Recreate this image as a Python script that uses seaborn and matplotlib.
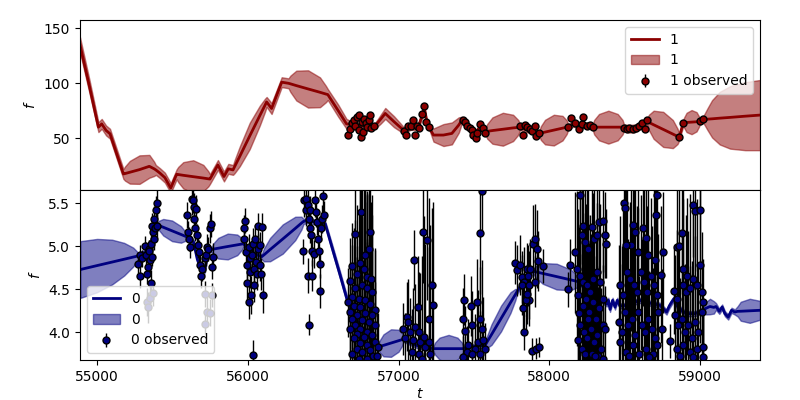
import numpy as np
import matplotlib
matplotlib.use("Agg")
import matplotlib.pyplot as plt
import seaborn as sns

# --- band "1" (top panel): GP model ---
t_mod1 = [54887, 54950, 55009, 55031, 55060, 55086, 55175, 55186, 55218, 55282,
          55347, 55379, 55390, 55418, 55450, 55489, 55528, 55539, 55572, 55638,
          55705, 55738, 55749, 55802, 55842, 55871, 55902, 55913, 55947, 56013,
          56080, 56114, 56125, 56158, 56225, 56270, 56283, 56322, 56400, 56479,
          56518, 56531, 56600, 56655, 56700, 56760, 56843, 56880, 56912, 56970,
          57033, 57080, 57130, 57160, 57170, 57190, 57210, 57232, 57298, 57354,
          57400, 57420, 57460, 57500, 57540, 57577, 57588, 57623, 57692, 57760,
          57795, 57806, 57840, 57880, 57934, 57944, 57972, 58030, 58088, 58116,
          58126, 58160, 58200, 58240, 58288, 58298, 58330, 58392, 58454, 58486,
          58496, 58530, 58570, 58610, 58650, 58661, 58692, 58756, 58820, 58851,
          58862, 58889, 58895, 58911, 58944, 58977, 58993, 58999, 59021, 59030,
          59050, 59080, 59131, 59200, 59300, 59398]
mu_mod1 = [135, 97, 60, 63, 57, 54, 17.3, 17.7, 18.9, 21.3,
           24.3, 22, 21, 18, 14, 4.5, 17, 16.8, 16.1, 14.85,
           13.6, 12.9, 12.7, 25.5, 15, 22, 21, 24.1, 33.4, 52,
           70.6, 79.9, 83, 77, 101, 100, 99.5, 97.9, 94.85, 91.8,
           90.2, 89.7, 75, 63, 62, 61, 61, 67, 72.5, 65,
           57.3, 60, 60, 72, 78, 63, 58, 52.8, 52.8, 54.3,
           62, 66.4, 61, 53, 60, 56, 56.2, 56.9, 58.1, 59.3,
           59.8, 60, 58, 57, 54.3, 54.6, 55.5, 57.3, 59.1, 60,
           60.3, 63, 61, 62, 60, 60, 60, 60, 60, 60,
           59.5, 58.5, 59, 62, 65, 64.3, 62.2, 57.95, 53.7, 51.6,
           50.9, 64, 64.1, 64.3, 64.6, 64.9, 65.1, 65.2, 67, 67.1,
           67.3, 67.6, 68.2, 68.9, 70, 71]
sd_mod1 = [7, 6, 4.5, 4.5, 4.5, 4.5, 4.5, 6.5, 10.4, 13,
           10.4, 6.5, 4.5, 4.5, 4.5, 4.5, 4.5, 7, 12, 15,
           12, 7, 4.5, 4.5, 4.5, 4.5, 4.5, 6, 9, 12,
           9, 6, 4.5, 5, 4.5, 4.5, 7.5, 13.6, 17, 13.6,
           7.5, 5, 5.5, 4.5, 2.5, 2.5, 2.5, 4, 5, 5,
           3, 2.5, 2.5, 2.5, 2.5, 2.5, 2.5, 6, 10, 10,
           7, 3, 2.5, 2.5, 2.5, 2.5, 6.6, 12, 15, 12,
           6.6, 2.5, 2.5, 2.5, 2.5, 6.2, 11.2, 14, 11.2, 6.2,
           2.5, 2.5, 2.5, 2.5, 2.5, 6.6, 12, 15, 12, 6.6,
           3, 3.5, 3.5, 3, 3, 7, 12.8, 16, 12.8, 7,
           3, 3, 4.8, 8.8, 11, 8.8, 4.8, 3, 3, 5,
           10, 17, 24, 28.5, 31, 32]

# band "1" observations
t_obs1 = [56662, 56675, 56691, 56702, 56713, 56724, 56735, 56741, 56748, 56757,
          56763, 56772, 56781, 56790, 56801, 56808, 56817, 56839,
          57038, 57051, 57066, 57084, 57099, 57108, 57122, 57137, 57157, 57166,
          57183, 57201,
          57431, 57444, 57457, 57471, 57486, 57497, 57513, 57519, 57541, 57559, 57577,
          57806, 57824, 57839, 57855, 57872, 57888, 57903, 57912, 57934,
          58126, 58144, 58171, 58199, 58215, 58226, 58248, 58270, 58288,
          58496, 58513, 58531, 58553, 58575, 58597, 58615, 58633, 58650,
          58862, 58889, 58999, 59021]
f_obs1 = [52.8, 57.9, 63.4, 66.4, 60.9, 69.4, 71.0, 57.3, 50.6, 64.9,
          55.8, 67.0, 63.4, 60.3, 66.4, 71.5, 58.8, 60.9,
          56.7, 52.5, 61.0, 61.0, 66.4, 52.5, 61.0, 58.8, 71.9, 79.7,
          64.9, 60.3,
          66.4, 64.6, 61.0, 59.4, 57.3, 52.8, 49.7, 54.3, 62.5, 58.8, 54.3,
          60.9, 52.5, 62.2, 59.7, 58.5, 56.4, 60.9, 51.9, 54.3,
          60.3, 67.9, 63.4, 57.9, 62.5, 69.4, 60.9, 62.2, 59.7,
          58.8, 58.5, 58.8, 57.9, 59.4, 60.9, 63.4, 57.9, 66.4,
          50.9, 64.0, 65.2, 67.0]
e_obs1 = [1.5] * len(t_obs1)

# --- band "0" (bottom panel): GP model ---
t_mod0 = [54889, 55000, 55100, 55180, 55240, 55276, 55300, 55330, 55360, 55385,
          55400, 55410, 55439, 55498, 55557, 55586, 55596, 55640, 55665, 55689,
          55711, 55740, 55762, 55772, 55804, 55867, 55930, 55962, 55972, 56000,
          56030, 56060, 56093, 56107, 56148, 56232, 56315, 56356, 56370, 56400,
          56450, 56514, 56560, 56610, 56657, 56700, 56750, 56800, 56867, 56875,
          56900, 56950, 57000, 57025, 57033, 57080, 57130, 57180, 57232, 57242,
          57272, 57332, 57391, 57421, 57431, 57480, 57530, 57575, 57585, 57617,
          57680, 57743, 57775, 57785, 57830, 57870, 57894, 57910, 57956, 58049,
          58142, 58188, 58204, 58248, 58336, 58381, 58392, 58403, 58420, 58436,
          58451, 58469, 58513, 58557, 58602, 58646, 58690, 58734, 58761, 58778,
          58796, 58812, 58827, 58845, 58867, 58889, 58922, 58966, 59010, 59026,
          59040, 59066, 59092, 59106, 59128, 59147, 59165, 59187, 59209, 59231,
          59250, 59270, 59330, 59398]
mu_mod0 = [4.73, 4.776, 4.817, 4.85, 4.875, 4.89, 4.92, 4.93, 5.05, 5.22,
           5.25, 5.243, 5.222, 5.18, 5.138, 5.117, 5.11, 5.05, 4.85, 4.74,
           4.71, 4.95, 4.965, 4.968, 4.978, 4.998, 5.017, 5.027, 5.03, 4.98,
           4.93, 4.9, 4.88, 4.9, 4.962, 5.085, 5.208, 5.27, 5.29, 5.3,
           5.28, 5.26, 4.98, 4.68, 4.39, 4.2, 4.05, 3.95, 3.83, 3.835,
           3.848, 3.875, 3.902, 3.916, 3.92, 3.88, 3.84, 3.82, 3.81, 3.81,
           3.81, 3.81, 3.81, 3.81, 3.81, 3.83, 3.84, 3.85, 3.881, 3.974,
           4.16, 4.346, 4.439, 4.47, 4.6, 4.68, 4.71, 4.704, 4.685, 4.648,
           4.61, 4.591, 4.585, 4.469, 4.39, 4.33, 4.372, 4.267, 4.372, 4.294,
           4.372, 4.306, 4.314, 4.345, 4.372, 4.345, 4.333, 4.314, 4.267, 4.236,
           4.306, 4.352, 4.391, 4.314, 4.275, 4.236, 4.217, 4.217, 4.244, 4.26,
           4.28, 4.3, 4.29, 4.3, 4.244, 4.294, 4.217, 4.178, 4.256, 4.236,
           4.244, 4.245, 4.25, 4.256]
sd_mod0 = [0.33, 0.31, 0.26, 0.19, 0.11, 0.03, 0.03, 0.03, 0.03, 0.03,
           0.03, 0.053, 0.096, 0.12, 0.096, 0.053, 0.03, 0.03, 0.04, 0.04,
           0.04, 0.03, 0.03, 0.066, 0.12, 0.15, 0.12, 0.066, 0.03, 0.03,
           0.03, 0.03, 0.03, 0.075, 0.136, 0.17, 0.136, 0.075, 0.03, 0.03,
           0.03, 0.03, 0.04, 0.04, 0.04, 0.03, 0.03, 0.03, 0.03, 0.07,
           0.128, 0.16, 0.128, 0.07, 0.03, 0.03, 0.03, 0.03, 0.03, 0.07,
           0.128, 0.16, 0.128, 0.07, 0.03, 0.03, 0.03, 0.03, 0.066, 0.12,
           0.15, 0.12, 0.066, 0.03, 0.03, 0.03, 0.03, 0.066, 0.12, 0.15,
           0.12, 0.066, 0.03, 0.03, 0.03, 0.03, 0.03, 0.03, 0.03, 0.03,
           0.03, 0.03, 0.03, 0.03, 0.03, 0.03, 0.03, 0.03, 0.03, 0.03,
           0.03, 0.03, 0.03, 0.03, 0.03, 0.03, 0.03, 0.03, 0.03, 0.04,
           0.072, 0.09, 0.072, 0.04, 0.03, 0.03, 0.03, 0.03, 0.03, 0.03,
           0.06, 0.11, 0.14, 0.11]

# band "0" observations
t_obs0 = [
    # 55300 season
    55269, 55282, 55282, 55298, 55320, 55327, 55331, 55338, 55342, 55346,
    55353, 55357, 55360, 55364, 55371, 55375, 55380, 55384, 55388, 55395,
    55400, 55364, 55331, 55340, 55353, 55373,
    # 55650 season
    55596, 55601, 55607, 55614, 55629, 55636, 55640, 55645, 55651, 55658,
    55663, 55667, 55674, 55680, 55689, 55698, 55718, 55724, 55729, 55735,
    55751, 55758, 55762, 55769, 55718, 55729, 55751, 55762, 55718,
    # 56030 season
    55972, 55976, 55983, 55987, 55994, 55998, 56005, 56012, 56016, 56021,
    56027, 56034, 56038, 56043, 56049, 56056, 56060, 56065, 56071, 56078,
    56082, 56087, 56093, 56100, 56005, 56034,
    # 56430 season
    56365, 56374, 56387, 56398, 56403, 56388, 56397, 56403, 56410, 56414,
    56421, 56428, 56436, 56447, 56454, 56458, 56463, 56470, 56476, 56481,
    56485, 56492, 56498, 56503, 56425,
    # 56760 season
    56750, 56713, 56812, 56801, 56779, 56746, 56691, 56768, 56724, 56790,
    56817, 56680, 56757, 56713, 56790, 56823, 56691, 56735, 56779, 56668,
    56812, 56702, 56746, 56845, 56680, 56779, 56724, 56823, 56691, 56757,
    56801, 56713, 56845, 56746, 56680, 56790, 56724, 56823, 56768, 56702,
    56845, 56746, 56790, 56724, 56812, 56757, 56691, 56834, 56735, 56790,
    56861, 56856,
    # 57120 season
    57104, 57161, 57188, 57221, 57228, 57126, 57055, 57033, 57060, 57077,
    57099, 57110, 57133, 57144, 57166, 57177, 57199, 57199, 57210, 57088,
    57133, 57044, 57155,
    # 57500 season
    57552, 57541, 57435, 57426, 57442, 57480, 57486, 57464, 57519, 57541,
    57552, 57530, 57563, 57575, 57508, 57453, 57426, 57486, 57541,
    # 57860 season
    57773, 57789, 57807, 57818, 57833, 57851, 57862, 57868, 57817, 57828,
    57833, 57846, 57855, 57868, 57883, 57894, 57905, 57912, 57921, 57928,
    57934, 57961, 57905, 57872,
    # 58270 season
    58204, 58226, 58215, 58237, 58259, 58281, 58297, 58314, 58332, 58354,
    58369, 58376, 58171, 58138, 58126, 58182, 58204, 58226, 58248, 58270,
    58292, 58314, 58336, 58359, 58193, 58221, 58244, 58266, 58288, 58310,
    58332, 58354, 58369, 58204, 58230, 58252, 58275, 58297, 58319, 58341,
    58193, 58215, 58237, 58281, 58325, 58359, 58199, 58259, 58303,
    # 58600 season
    58496, 58502, 58557, 58568, 58619, 58641, 58712, 58708, 58540, 58509,
    58590, 58657, 58701, 58756, 58469, 58487, 58513, 58535, 58562, 58584,
    58606, 58628, 58650, 58672, 58694, 58717, 58739, 58465, 58480, 58502,
    58524, 58546, 58568, 58590, 58612, 58635, 58657, 58679, 58701, 58723,
    58469, 58509, 58553, 58597, 58641, 58686, 58717, 58531, 58663, 58745,
    # 58930 season
    58955, 58966, 58999, 58845, 58862, 58878, 58889, 58911, 58827, 58849,
    58884, 58906, 58933, 58955, 58977, 58999, 59010, 59017, 58802, 58834,
    58856, 58878, 58900, 58922, 58944, 58966, 58988, 59010, 58845, 58889,
    58933, 58977, 59021, 58867, 58955, 59017,
]
f_obs0 = [
    4.79, 4.90, 4.66, 4.86, 5.00, 4.90, 4.68, 4.76, 4.97, 4.95,
    4.84, 4.57, 5.03, 5.24, 5.17, 5.32, 5.09, 5.21, 5.42, 5.50,
    5.24, 4.88, 4.35, 4.29, 4.40, 4.46,
    5.36, 5.17, 5.09, 4.99, 5.55, 5.54, 5.46, 5.32, 5.21, 5.43,
    5.13, 5.01, 4.93, 4.78, 4.66, 4.74, 4.86, 4.90, 4.99, 4.97,
    5.21, 5.26, 4.76, 4.88, 4.45, 4.24, 4.23, 4.43, 4.10,
    5.09, 5.21, 5.30, 4.93, 4.78, 4.57, 4.99, 4.86, 4.70, 4.43,
    4.90, 5.03, 4.74, 4.55, 5.09, 4.82, 4.68, 4.97, 5.24, 4.78,
    5.01, 4.68, 5.22, 4.43, 4.35, 3.74,
    4.94, 5.54, 5.42, 4.66, 4.09, 5.55, 5.48, 5.32, 5.21, 5.42,
    5.13, 4.95, 4.91, 5.54, 5.40, 5.28, 5.09, 4.95, 4.80, 4.48,
    5.21, 5.32, 5.59, 5.36, 4.66,
    5.40, 5.14, 5.17, 4.97, 4.90, 4.81, 4.77, 4.74, 4.68, 4.64,
    4.62, 4.60, 4.55, 4.51, 4.51, 4.47, 4.41, 4.39, 4.37, 4.35,
    4.33, 4.31, 4.29, 4.26, 4.24, 4.22, 4.20, 4.20, 4.16, 4.14,
    4.12, 4.08, 4.08, 4.04, 4.04, 4.00, 3.98, 3.97, 3.95, 3.93,
    3.89, 3.87, 3.85, 3.81, 3.79, 3.77, 3.75, 3.73, 3.69, 3.69,
    3.83, 3.72,
    4.84, 5.17, 5.07, 4.55, 4.32, 4.29, 4.18, 4.04, 4.12, 4.00,
    3.91, 4.06, 4.00, 3.89, 3.95, 3.83, 4.16, 3.89, 3.75, 3.77,
    3.75, 3.93, 3.69,
    5.64, 5.15, 4.38, 4.16, 4.01, 4.31, 4.08, 3.85, 4.35, 4.16,
    4.04, 3.89, 3.91, 3.81, 3.81, 3.77, 3.71, 3.75, 3.75,
    4.81, 4.72, 4.78, 4.64, 4.59, 4.74, 4.66, 4.37, 4.55, 4.28,
    4.00, 4.37, 4.45, 4.55, 3.78, 5.03, 5.09, 3.81, 4.97, 4.83,
    3.83, 4.77, 4.59, 4.74,
    5.60, 5.24, 5.13, 5.05, 4.97, 5.23, 5.09, 5.13, 5.28, 5.30,
    5.13, 5.03, 4.93, 4.78, 4.50, 4.74, 4.66, 4.59, 4.55, 4.47,
    4.62, 4.70, 4.59, 4.39, 4.43, 4.31, 4.39, 4.24, 4.35, 4.16,
    4.28, 4.08, 4.04, 4.08, 4.00, 3.93, 4.04, 3.89, 3.97, 3.81,
    3.91, 3.81, 3.75, 3.75, 3.73, 3.69, 4.22, 4.16, 3.73,
    5.50, 5.44, 5.25, 5.17, 5.21, 5.10, 5.60, 5.37, 5.01, 5.02,
    4.93, 4.90, 4.84, 4.93, 4.55, 4.43, 4.70, 4.62, 4.55, 4.47,
    4.70, 4.59, 4.47, 4.66, 4.55, 4.43, 4.67, 4.12, 4.00, 4.24,
    4.08, 4.16, 3.97, 4.24, 4.08, 4.00, 4.16, 4.04, 3.93, 4.24,
    3.89, 3.77, 3.85, 3.75, 3.81, 3.75, 3.85, 3.73, 3.71, 4.04,
    5.48, 5.41, 5.42, 4.99, 5.00, 5.15, 4.74, 4.66, 4.48, 4.39,
    4.55, 4.47, 4.51, 4.62, 4.55, 4.78, 4.47, 4.35, 3.90, 4.20,
    4.08, 4.16, 4.00, 4.08, 3.93, 4.12, 4.00, 4.24, 3.81, 3.85,
    3.77, 3.81, 3.83, 3.73, 3.71, 3.71,
]
e_obs0 = [
    0.10, 0.12, 0.14, 0.10, 0.12, 0.15, 0.12, 0.13, 0.10, 0.12,
    0.14, 0.16, 0.12, 0.15, 0.12, 0.15, 0.13, 0.12, 0.16, 0.18,
    0.14, 0.11, 0.16, 0.18, 0.14, 0.15,
    0.15, 0.12, 0.14, 0.13, 0.18, 0.15, 0.16, 0.14, 0.15, 0.17,
    0.13, 0.15, 0.14, 0.16, 0.15, 0.14, 0.16, 0.13, 0.15, 0.14,
    0.17, 0.15, 0.14, 0.16, 0.15, 0.17, 0.16, 0.14, 0.12,
    0.14, 0.16, 0.15, 0.18, 0.16, 0.20, 0.15, 0.17, 0.19, 0.22,
    0.16, 0.18, 0.17, 0.20, 0.16, 0.18, 0.19, 0.17, 0.15, 0.18,
    0.16, 0.19, 0.17, 0.21, 0.20, 0.17,
    0.15, 0.20, 0.18, 0.20, 0.12, 0.20, 0.17, 0.15, 0.17, 0.16,
    0.15, 0.18, 0.16, 0.20, 0.17, 0.15, 0.16, 0.18, 0.17, 0.20,
    0.15, 0.16, 0.20, 0.17, 0.18,
    0.8, 0.7, 0.9, 1.0, 0.8, 0.9, 0.5, 1.1, 0.8, 1.0,
    0.9, 0.5, 1.2, 0.8, 1.1, 0.9, 0.6, 1.0, 1.3, 0.4,
    1.1, 0.9, 1.4, 0.7, 0.5, 1.3, 0.8, 1.4, 0.6, 1.2,
    1.5, 0.8, 0.9, 1.3, 0.5, 1.6, 0.9, 1.0, 1.4, 0.6,
    0.7, 1.5, 1.2, 1.0, 1.3, 1.6, 0.6, 0.9, 1.1, 1.4,
    0.4, 0.5,
    0.35, 0.6, 0.7, 0.9, 1.2, 0.6, 0.4, 0.3, 0.5, 0.4,
    0.6, 0.5, 0.7, 0.8, 1.4, 1.2, 1.4, 1.1, 1.5, 0.5,
    0.6, 0.3, 1.2,
    0.5, 0.7, 0.3, 0.35, 0.3, 0.35, 0.4, 0.3, 0.5, 0.6,
    0.8, 0.6, 0.5, 0.3, 0.4, 0.3, 0.25, 0.35, 0.5,
    0.25, 0.3, 0.35, 0.3, 0.4, 0.3, 0.35, 0.3, 0.35, 0.3,
    0.2, 0.4, 0.35, 0.4, 0.15, 0.45, 0.4, 0.12, 0.45, 0.35,
    0.12, 0.2, 0.3, 0.35,
    0.8, 0.9, 0.7, 1.0, 0.8, 0.9, 0.7, 1.0, 0.8, 0.6,
    0.5, 0.4, 0.7, 0.3, 0.2, 0.9, 1.0, 0.8, 1.1, 0.9,
    1.0, 0.8, 0.9, 0.7, 1.0, 0.9, 1.1, 0.8, 1.0, 0.9,
    0.8, 0.7, 0.5, 1.0, 1.2, 0.9, 1.1, 1.0, 0.8, 0.7,
    0.9, 1.1, 1.0, 0.9, 0.8, 0.6, 1.0, 1.2, 0.9,
    0.8, 0.9, 0.8, 1.0, 0.9, 0.8, 0.9, 0.7, 1.0, 0.9,
    1.1, 0.9, 1.0, 0.7, 0.8, 1.0, 1.1, 0.9, 1.2, 1.0,
    0.9, 1.1, 1.0, 0.9, 1.1, 0.9, 0.8, 0.9, 1.0, 1.2,
    1.0, 1.1, 0.9, 1.2, 1.0, 1.1, 0.9, 1.2, 1.0, 0.9,
    0.9, 1.0, 1.1, 0.9, 1.2, 1.0, 0.8, 0.9, 1.0, 0.7,
    0.6, 0.7, 0.6, 0.8, 0.9, 0.7, 1.0, 0.9, 0.5, 0.8,
    1.0, 0.9, 1.1, 0.8, 1.0, 0.9, 0.7, 0.5, 0.2, 0.7,
    0.9, 1.0, 0.8, 1.1, 0.9, 1.0, 0.8, 0.6, 0.7, 0.9,
    1.0, 0.8, 0.4, 0.9, 1.0, 0.5,
]

assert len(t_mod1) == len(mu_mod1) == len(sd_mod1)
assert len(t_mod0) == len(mu_mod0) == len(sd_mod0)
assert len(t_obs1) == len(f_obs1)
assert len(t_obs0) == len(f_obs0) == len(e_obs0)


def plot_band(ax, t, mu, sd, tobs, fobs, eobs, color, name):
    t = np.asarray(t)
    mu = np.asarray(mu)
    sd = np.asarray(sd)
    sns.lineplot(x=t, y=mu, color=color, lw=2, label=name, ax=ax)
    ax.fill_between(t, mu - sd, mu + sd, color=color, alpha=0.5, label=name)
    ax.errorbar(tobs, fobs, yerr=eobs, fmt="o", color=color, mec="k", ecolor="k",
                ms=5, elinewidth=1, label=f"{name} observed")
    ax.set_ylabel("$f$")


fig, (ax1, ax0) = plt.subplots(2, 1, sharex=True, figsize=(8, 4), dpi=100)
fig.subplots_adjust(left=0.1, right=0.95, top=0.95, bottom=0.1, hspace=0)

plot_band(ax1, t_mod1, mu_mod1, sd_mod1, t_obs1, f_obs1, e_obs1, "darkred", "1")
ax1.set_ylim(2.7, 157.7)
ax1.set_yticks([50, 100, 150])
ax1.legend(loc="upper right")

plot_band(ax0, t_mod0, mu_mod0, sd_mod0, t_obs0, f_obs0, e_obs0, "navy", "0")
ax0.set_ylim(3.678, 5.655)
ax0.set_yticks([4.0, 4.5, 5.0, 5.5])
ax0.legend(loc="lower left")

ax0.set_xlim(54887, 59398)
ax0.set_xticks([55000, 56000, 57000, 58000, 59000])
ax0.set_xlabel("$t$", labelpad=2)

fig.savefig("out.png", dpi=100)
